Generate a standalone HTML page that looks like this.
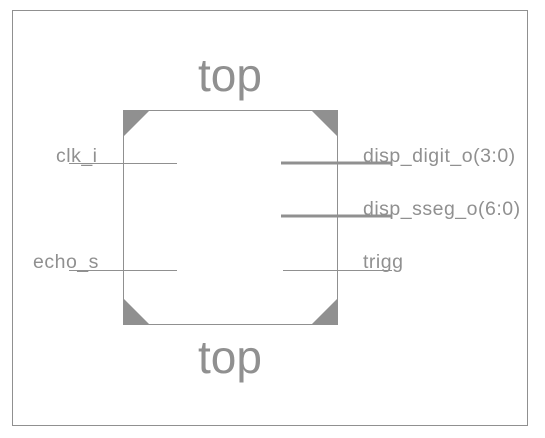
<!DOCTYPE html>
<html><head><meta charset="utf-8"><style>
html,body{margin:0;padding:0;background:#fff;}
svg{display:block;font-family:"Liberation Sans",Arial,sans-serif;}
</style></head><body>
<svg width="545" height="438" viewBox="0 0 545 438">
<rect x="12.5" y="10.5" width="515" height="415" fill="none" stroke="#909090" stroke-width="1"/>
<text x="230" y="91" font-size="46" fill="#909090" text-anchor="middle">top</text>
<text x="230" y="373" font-size="46" fill="#909090" text-anchor="middle">top</text>
<g>
<rect x="123.5" y="110.5" width="214" height="214" fill="#fff" stroke="#909090" stroke-width="1"/>
<polygon points="123,110 150,110 123,137" fill="#909090"/>
<polygon points="311,110 338,110 338,137" fill="#909090"/>
<polygon points="123,298 123,325 150,325" fill="#909090"/>
<polygon points="338,298 338,325 311,325" fill="#909090"/>
</g>
<g fill="#909090" font-size="19.5" letter-spacing="0.5">
<line x1="69" y1="163.5" x2="177" y2="163.5" stroke="#909090" stroke-width="1"/>
<text x="56" y="162">clk_i</text>
<line x1="69" y1="270.5" x2="177" y2="270.5" stroke="#909090" stroke-width="1"/>
<text x="33" y="268">echo_s</text>
<line x1="281" y1="163" x2="392" y2="163" stroke="#909090" stroke-width="3"/>
<text x="363" y="162">disp_digit_o(3:0)</text>
<line x1="281" y1="216" x2="392" y2="216" stroke="#909090" stroke-width="3"/>
<text x="363" y="215">disp_sseg_o(6:0)</text>
<line x1="283" y1="270.5" x2="392" y2="270.5" stroke="#909090" stroke-width="1"/>
<text x="363" y="268">trigg</text>
</g>
</svg>
</body></html>
